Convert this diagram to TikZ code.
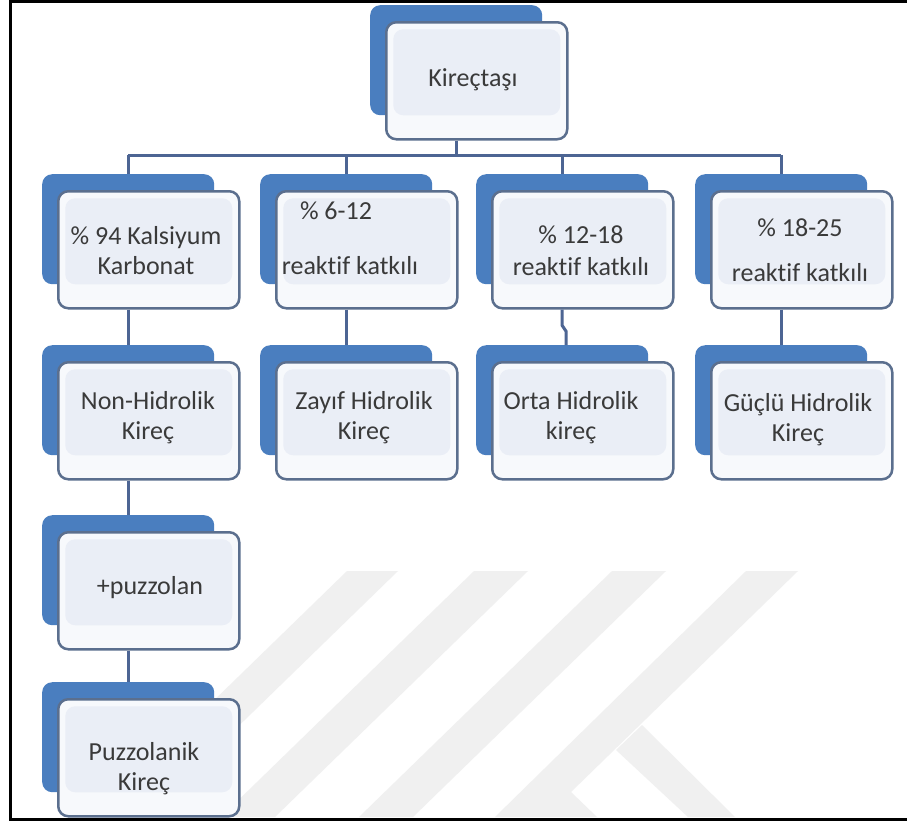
\documentclass[tikz,border=0pt]{standalone}
\usepackage{fontspec}
\setmainfont{Carlito}[Ligatures={NoCommon,NoRequired,NoContextual}]
\definecolor{backblue}{HTML}{4A7EBF}
\definecolor{frameline}{HTML}{5B6F8E}
\definecolor{conn}{HTML}{4D6593}
\definecolor{innerfill}{HTML}{EAEEF6}
\definecolor{outerfill}{HTML}{F7F9FC}
\definecolor{wm}{HTML}{F0F0F0}
\definecolor{txt}{HTML}{3A3A3A}
\newcommand\boxpair[3]{%
  \node[backbox] (#1b) at (#2,#3) {};
  \node[frontbox] (#1f) at ([shift={(15,16)}]#2,#3) {};}
\begin{document}
\begin{tikzpicture}[x=1pt,y=-1pt,
  backbox/.style={fill=backblue, rounded corners=10pt, minimum width=172pt,
    minimum height=110pt, inner sep=0pt, anchor=north west},
  frontbox/.style={draw=frameline, line width=2.5pt, fill=outerfill,
    rounded corners=10pt, minimum width=181pt, minimum height=117pt,
    inner sep=0pt, anchor=north west,
    path picture={\fill[innerfill]
      ([xshift=7pt,yshift=-7pt]path picture bounding box.north west) rectangle
      ([xshift=-7pt,yshift=24pt]path picture bounding box.south east);}},
  lbl/.style={font=\fontsize{26}{30}\selectfont, text=txt, align=center, inner sep=0pt},
  connector/.style={draw=conn, line width=3pt}]
\fill[white] (0,0) rectangle (907,823);
\useasboundingbox (0,0) rectangle (907,823);
% watermark
\fill[wm] (347,571) -- (398,571) -- (145,817) -- (94,817) -- cycle;
\fill[wm] (474,571) -- (528,571) -- (275,817) -- (221,817) -- cycle;
\fill[wm] (612,571) -- (666,571) -- (413,817) -- (359,817) -- cycle;
\fill[wm] (746,571) -- (798,571) -- (571,792) -- (597,817) -- (495,817) -- cycle;
\fill[wm] (642,725) -- (735,817) -- (688,817) -- (616,750) -- cycle;
% boxes
\boxpair{A}{370}{5}
\boxpair{B1}{42}{174}
\boxpair{B2}{260}{174}
\boxpair{B3}{476}{174}
\boxpair{B4}{695}{174}
\boxpair{C1}{42}{345}
\boxpair{C2}{260}{345}
\boxpair{C3}{476}{345}
\boxpair{C4}{695}{345}
\boxpair{D1}{42}{515}
\boxpair{E1}{42}{682}
% connectors
\coordinate (bar) at (0,155);
\draw[connector] (Ab.south |- Af.south) -- (Ab.south |- bar);
\draw[connector] (B1b.north |- bar) -- (B4b.north |- bar);
\foreach \i in {1,...,4} \draw[connector] (B\i b.north |- bar) -- (B\i b.north);
\draw[connector] (B1b.south |- B1f.south) -- (C1b.north);
\draw[connector] (B2b.south |- B2f.south) -- (C2b.north);
\draw[connector] (B3b.south |- B3f.south) -- ++(0,16) -- ++(4,6) -- ([xshift=4pt]C3b.north);
\draw[connector] (B4b.south |- B4f.south) -- (C4b.north);
\draw[connector] (C1b.south |- C1f.south) -- (D1b.north);
\draw[connector] (D1b.south |- D1f.south) -- (E1b.north);
% labels
\node[lbl] (At) at (473,80) {Kireçtaşı};
\node[lbl] (B1t) at (146,251) {\% 94 Kalsiyum\\Karbonat};
\node[lbl] (B2t) at (350,238) {\% 6-12\hspace*{28pt}\\[25pt]reaktif katkılı};
\node[lbl] (B3t) at (581,251) {\% 12-18\\[2pt]reaktif katkılı};
\node[lbl] (B4t) at (800,250) {\% 18-25\\[15pt]reaktif katkılı};
\node[lbl] (C1t) at (148,418) {Non-Hidrolik\\Kireç};
\node[lbl] (C2t) at (364,418) {Zayıf Hidrolik\\Kireç};
\node[lbl] (C3t) at (571,418) {Orta Hidrolik\\kireç};
\node[lbl] (C4t) at (798,420) {Güçlü Hidrolik\\Kireç};
\node[lbl] (D1t) at (150,588) {+puzzolan};
\node[lbl] (E1t) at (144,769) {Puzzolanik\\Kireç};
% frame
\draw[black, line width=3pt] (907,1.5) -- (10,1.5) -- (10,819) -- (907,819);
\end{tikzpicture}
\end{document}
